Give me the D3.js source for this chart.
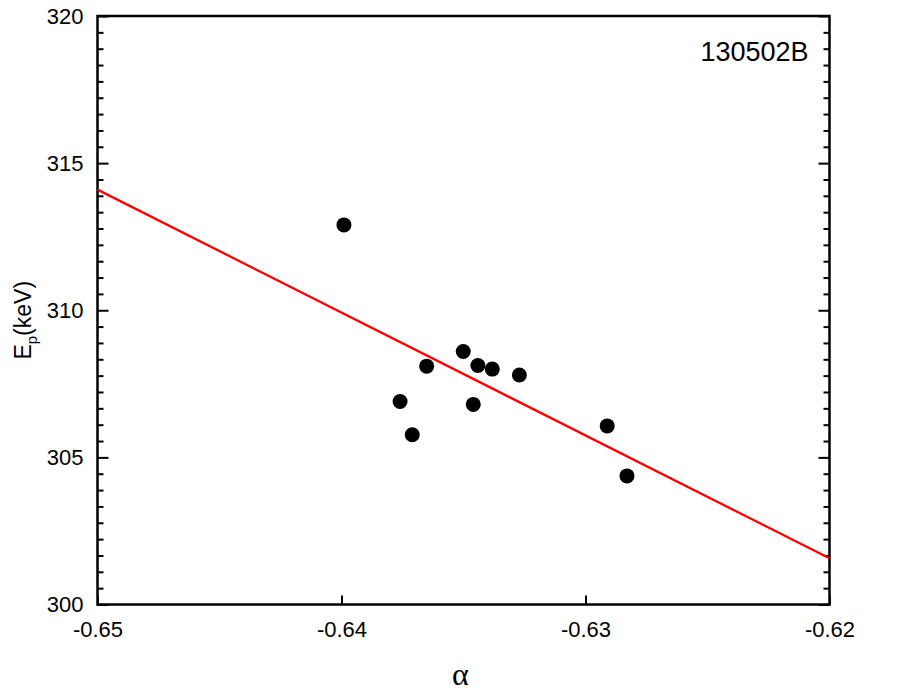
<html>
<head>
<meta charset="UTF-8">
<script src="https://d3js.org/d3.v7.min.js"></script>
<style>
    body { margin: 0; background: #fff; }
    svg { display: block; font-family: "Liberation Sans", Arial, sans-serif; }
    .axis text { font-size: 22px; fill: #000; }
    .axis line { stroke: #000; stroke-width: 2; }
</style>
</head>
<body>
<svg width="917" height="695"></svg>
<script>
    // data
    const alphaVals = [-0.6399, -0.63651, -0.6376, -0.6371, -0.63501, -0.63441, -0.63382, -0.63271, -0.6346, -0.62911, -0.6283];
    const epVals    = [312.9, 308.1, 306.9, 305.77, 308.6, 308.12, 308.0, 307.8, 306.8, 306.07, 304.37];
    const fitAlpha  = [-0.65, -0.62];
    const fitEp     = [314.1, 301.57];
    const xTicks    = [-0.65, -0.64, -0.63, -0.62];
    const yTicks    = [300, 305, 310, 315, 320];
    const burstName = "130502B";

    const margin = {top: 16, right: 87.5, bottom: 90.5, left: 97.5},
          width = 917 - margin.left - margin.right,
          height = 695 - margin.top - margin.bottom;

    const svg = d3.select("svg")
        .append("g")
        .attr("transform", `translate(${margin.left},${margin.top})`);

    const x = d3.scaleLinear().domain([-0.65, -0.62]).range([0, width]);
    const y = d3.scaleLinear().domain([300, 320]).range([height, 0]);

    // minor ticks: 8 between majors
    const yMinor = [];
    for (let i = 0; i < yTicks.length - 1; i++) {
        for (let k = 1; k < 9; k++) yMinor.push(yTicks[i] + k * 5 / 9);
    }

    // bottom axis
    svg.append("g")
        .attr("class", "axis")
        .attr("transform", `translate(0,${height})`)
        .call(d3.axisBottom(x).tickValues(xTicks).tickSizeInner(-9).tickSizeOuter(0)
            .tickPadding(17).tickFormat(d => d.toFixed(2)))
        .call(g => g.select(".domain").remove());

    // left axis
    svg.append("g")
        .attr("class", "axis")
        .call(d3.axisLeft(y).tickValues(yTicks).tickSizeInner(-11).tickSizeOuter(0)
            .tickPadding(14).tickFormat(d3.format("d")))
        .call(g => g.select(".domain").remove());
    svg.append("g")
        .attr("class", "axis")
        .call(d3.axisLeft(y).tickValues(yMinor).tickSizeInner(-6).tickSizeOuter(0).tickFormat(""))
        .call(g => g.select(".domain").remove());

    // right axis
    svg.append("g")
        .attr("class", "axis")
        .attr("transform", `translate(${width},0)`)
        .call(d3.axisRight(y).tickValues(yTicks).tickSizeInner(-11).tickSizeOuter(0).tickFormat(""))
        .call(g => g.select(".domain").remove());
    svg.append("g")
        .attr("class", "axis")
        .attr("transform", `translate(${width},0)`)
        .call(d3.axisRight(y).tickValues(yMinor).tickSizeInner(-6).tickSizeOuter(0).tickFormat(""))
        .call(g => g.select(".domain").remove());

    // frame
    svg.append("rect")
        .attr("width", width)
        .attr("height", height)
        .style("fill", "none")
        .style("stroke", "#000")
        .style("stroke-width", 2.5);

    // fit line
    const line = d3.line()
        .x(d => x(d[0]))
        .y(d => y(d[1]));
    svg.append("path")
        .datum(fitAlpha.map((a, i) => [a, fitEp[i]]))
        .attr("d", line)
        .style("stroke", "#ff0000")
        .style("stroke-width", 2.3)
        .style("fill", "none");

    // points
    svg.selectAll("circle")
        .data(alphaVals.map((a, i) => [a, epVals[i]]))
        .enter().append("circle")
        .attr("cx", d => x(d[0]))
        .attr("cy", d => y(d[1]))
        .attr("r", 7.5)
        .style("fill", "#000");

    // burst label
    svg.append("text")
        .attr("x", width - 21)
        .attr("y", 45)
        .style("text-anchor", "end")
        .style("font-size", "27px")
        .text(burstName);

    // axis titles
    svg.append("text")
        .attr("x", width / 2 - 3)
        .attr("y", height + 80)
        .style("text-anchor", "middle")
        .style("font-family", "'Liberation Serif', 'Times New Roman', serif")
        .style("font-size", "32px")
        .text("α");

    const yl = svg.append("text")
        .attr("transform", `translate(${-margin.left + 31},${y(310) + 10}) rotate(-90)`)
        .style("text-anchor", "middle")
        .style("font-size", "23px");
    yl.append("tspan").text("E");
    yl.append("tspan").attr("dy", 6).style("font-size", "15px").text("p");
    yl.append("tspan").attr("dy", -6).text("(keV)");
</script>
</body>
</html>
